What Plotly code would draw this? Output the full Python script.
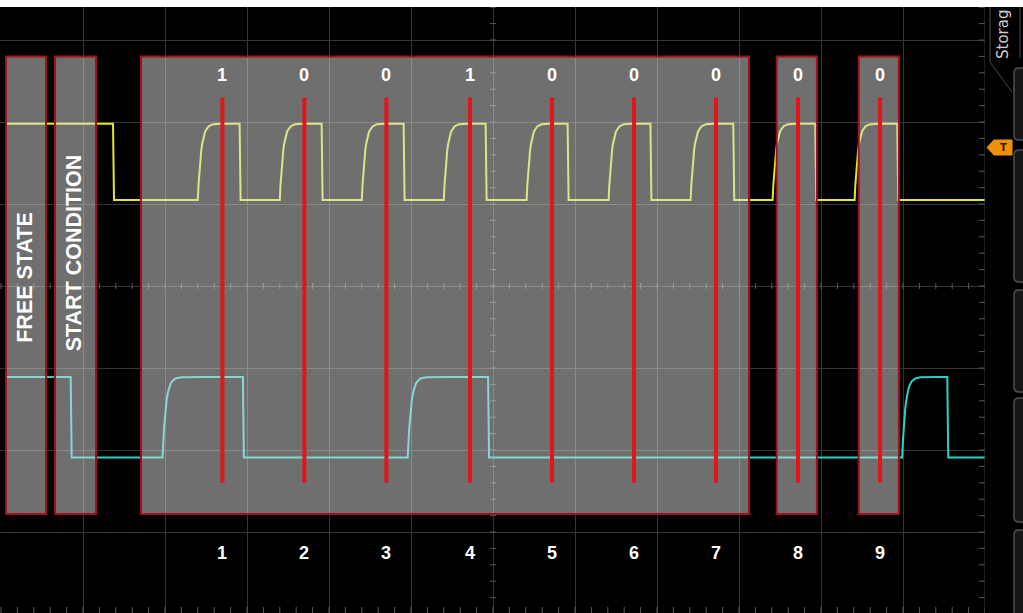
import numpy as np
import plotly.graph_objects as go

W, H = 1023, 613

# ---- data (time in divisions, level in divisions) ----
scl_high, scl_low = 1.98, 1.05
scl_rises = [2.40, 3.40, 4.40, 5.40, 6.41, 7.41, 8.41, 9.41, 10.41]
scl_falls = [1.366, 2.91, 3.91, 4.91, 5.91, 6.91, 7.92, 8.93, 9.93, 10.93]

sda_high, sda_low = -1.11, -2.09
sda_rises = [1.97, 4.96, 10.99]
sda_falls = [0.85, 2.95, 5.94, 11.54]

trace_start, trace_end = 0.05, 12.0

bit_values = ["1", "0", "0", "1", "0", "0", "0", "0", "0"]
bit_numbers = ["1", "2", "3", "4", "5", "6", "7", "8", "9"]
bit_sample_t = [2.70, 3.70, 4.70, 5.72, 6.72, 7.72, 8.72, 9.72, 10.72]

box_t0 = [0.061, 0.659, 1.707, 9.46, 10.46]
box_t1 = [0.549, 1.159, 9.122, 9.95, 10.95]
box_top, box_bottom = 2.80, -2.78
marker_top, marker_bottom = 2.30, -2.40

region_labels = ["FREE STATE", "START CONDITION"]
region_label_t = [0.29, 0.89]
region_label_v = [0.11, 0.41]

# ---- helpers ----
X0, X1 = -1 / 82, 984 / 82
Y0, Y1 = (286 - 613) / 82, (286 - 7) / 82
XDOM = 985 / W
YDOM = 606 / H


def waveform(hi, lo, rises, falls, tau=0.04):
    edges = sorted([(t, "r") for t in rises] + [(t, "f") for t in falls])
    bounds = [e[0] for e in edges] + [trace_end]
    xs, ys = [trace_start], [hi]
    level = hi
    for i, (t, k) in enumerate(edges):
        nxt = bounds[i + 1]
        xs.append(t)
        ys.append(level)
        if k == "f":
            xs += [t + 0.012, nxt]
            ys += [lo, lo]
            level = lo
        else:
            tt = np.linspace(t, nxt, 60)
            xs += list(tt)
            ys += list(lo + (hi - lo) * (1 - np.exp(-(tt - t) / tau)))
            level = hi
    return xs, ys


def px(x):
    return x / W


def py(y):
    return 1 - y / H


fig = go.Figure()

# minor ticks on centre axes and edges
tx, ty = [], []
tl = 6 / 82
for k in range(0, 61):
    d = k * 0.2
    tx += [d, d, None]
    ty += [-tl / 2, tl / 2, None]
    tx += [d, d, None]
    ty += [Y0, Y0 + tl, None]
for k in range(-20, 18):
    v = k * 0.2
    tx += [6 - tl / 2, 6 + tl / 2, None]
    ty += [v, v, None]
    tx += [12 - tl, 12, None]
    ty += [v, v, None]
fig.add_trace(go.Scatter(x=tx, y=ty, mode="lines", line=dict(color="#5a5a5a", width=1),
                         hoverinfo="skip", showlegend=False))

sx, sy = waveform(scl_high, scl_low, scl_rises, scl_falls)
fig.add_trace(go.Scatter(x=sx, y=sy, mode="lines", line=dict(color="#e2e62e", width=2),
                         hoverinfo="skip", showlegend=False))
dx, dy = waveform(sda_high, sda_low, sda_rises, sda_falls)
fig.add_trace(go.Scatter(x=dx, y=dy, mode="lines", line=dict(color="#2ad2c6", width=2),
                         hoverinfo="skip", showlegend=False))

shapes = []
# right edge line
shapes.append(dict(type="line", xref="x", yref="y", x0=12, x1=12, y0=Y0, y1=Y1,
                   line=dict(color="#3a3a3a", width=1)))
# overlay boxes
for a, b in zip(box_t0, box_t1):
    shapes.append(dict(type="rect", xref="x", yref="y", x0=a, x1=b, y0=box_bottom, y1=box_top,
                       fillcolor="rgba(222,222,222,0.5)", line=dict(color="#a3101a", width=2),
                       layer="above"))
# red sample markers
for t in bit_sample_t:
    shapes.append(dict(type="line", xref="x", yref="y", x0=t, x1=t, y0=marker_bottom, y1=marker_top,
                       line=dict(color="#e3141a", width=4), layer="above"))

# top white strip
shapes.append(dict(type="rect", xref="paper", yref="paper", x0=0, x1=1, y0=py(7), y1=1,
                   fillcolor="white", line=dict(width=0), layer="above"))


def rrect(x0, y0, x1, y1, r=5):
    return (f"M {px(x0 + r)},{py(y0)} L {px(x1)},{py(y0)} L {px(x1)},{py(y1)} "
            f"L {px(x0 + r)},{py(y1)} Q {px(x0)},{py(y1)} {px(x0)},{py(y1 - r)} "
            f"L {px(x0)},{py(y0 + r)} Q {px(x0)},{py(y0)} {px(x0 + r)},{py(y0)} Z")


for a, b in [(68, 140), (150, 282), (290, 392), (398, 522), (530, 640)]:
    shapes.append(dict(type="path", xref="paper", yref="paper", path=rrect(1014, a, 1030, b),
                       fillcolor="#161616", line=dict(color="#505050", width=1.5), layer="above"))
# storage tab outline
shapes.append(dict(type="path", xref="paper", yref="paper",
                   path=f"M {px(990)},{py(7)} L {px(990)},{py(62)} L {px(1012)},{py(92)}",
                   line=dict(color="#4a4a4a", width=1)))
shapes.append(dict(type="line", xref="paper", yref="paper", x0=px(1020), x1=px(1020), y0=py(7), y1=py(58),
                   line=dict(color="#4a4a4a", width=1)))
# trigger marker
shapes.append(dict(type="path", xref="paper", yref="paper",
                   path=(f"M {px(987)},{py(147.5)} L {px(994)},{py(140)} L {px(1012)},{py(140)} "
                         f"L {px(1012)},{py(155)} L {px(994)},{py(155)} Z"),
                   fillcolor="#f0900a", line=dict(color="#f0900a", width=1), layer="above"))

annotations = []
for t, b in zip(bit_sample_t, bit_values):
    annotations.append(dict(x=t, y=2.57, xref="x", yref="y", text=b, showarrow=False,
                            xanchor="center", yanchor="middle",
                            font=dict(family="Liberation Sans", size=18, color="white", weight="bold")))
for t, n in zip(bit_sample_t, bit_numbers):
    annotations.append(dict(x=t, y=-3.26, xref="x", yref="y", text=n, showarrow=False,
                            xanchor="center", yanchor="middle",
                            font=dict(family="Liberation Sans", size=18, color="white", weight="bold")))
for t, v, s in zip(region_label_t, region_label_v, region_labels):
    annotations.append(dict(x=t, y=v, xref="x", yref="y", text=s, showarrow=False, textangle=-90,
                            xanchor="center", yanchor="middle",
                            font=dict(family="Liberation Sans", size=21.5, color="white", weight="bold")))
annotations.append(dict(x=px(1003), y=py(35), xref="paper", yref="paper", text="Storag", showarrow=False,
                        textangle=-90, xanchor="center", yanchor="middle",
                        font=dict(family="DejaVu Sans", size=15, color="#d0d0d0")))
annotations.append(dict(x=px(1003), y=py(147.5), xref="paper", yref="paper", text="T", showarrow=False,
                        xanchor="center", yanchor="middle",
                        font=dict(family="DejaVu Sans", size=10, color="#3a1a00", weight="bold")))

fig.update_layout(
    width=W, height=H, margin=dict(l=0, r=0, t=0, b=0),
    paper_bgcolor="black", plot_bgcolor="black",
    shapes=shapes, annotations=annotations, showlegend=False,
    xaxis=dict(domain=[0, XDOM], range=[X0, X1], dtick=1, tick0=0, showgrid=True,
               gridcolor="#363636", gridwidth=1, zeroline=False, showticklabels=False, ticks="",
               fixedrange=True),
    yaxis=dict(domain=[0, YDOM], range=[Y0, Y1], dtick=1, tick0=0, showgrid=True,
               gridcolor="#363636", gridwidth=1, zeroline=False, showticklabels=False, ticks="",
               fixedrange=True),
)

fig.write_html("out.html", config={"displayModeBar": False},
               post_script="document.body.style.margin='0px';document.body.style.overflow='hidden';")
